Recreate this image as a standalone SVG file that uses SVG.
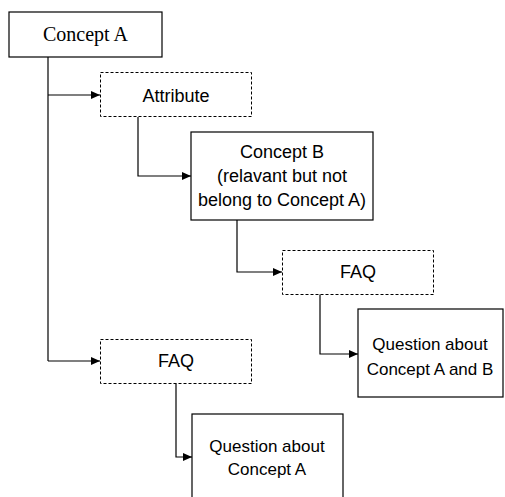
<svg xmlns="http://www.w3.org/2000/svg" width="505" height="497" viewBox="0 0 505 497">
<style>
.box{fill:#fff;stroke:#000;stroke-width:1.2}
.dash{fill:#fff;stroke:#000;stroke-width:1;stroke-dasharray:3,2}
.conn{fill:none;stroke:#000;stroke-width:1.2}
.sans{font-family:"Liberation Sans",Arial,sans-serif;font-size:18px;fill:#000;text-anchor:middle}
.q{font-size:17px}
.serif{font-family:"Liberation Serif","Times New Roman",serif;font-size:20px;fill:#000;text-anchor:middle}
</style>
<defs>
<marker id="arr" markerWidth="9" markerHeight="8" refX="9" refY="4" orient="auto" markerUnits="userSpaceOnUse">
<path d="M0,0 L9,4 L0,8 Z" fill="#000"/>
</marker>
</defs>
<rect width="505" height="497" fill="#fff"/>
<g id="connectors">
<path class="conn" d="M48,57 V361"/>
<path class="conn" d="M48,95 H100" marker-end="url(#arr)"/>
<path class="conn" d="M48,361 H100" marker-end="url(#arr)"/>
<path class="conn" d="M138,117 V176 H191" marker-end="url(#arr)"/>
<path class="conn" d="M237,220 V272 H282" marker-end="url(#arr)"/>
<path class="conn" d="M320,294 V354 H358" marker-end="url(#arr)"/>
<path class="conn" d="M176,383 V457 H192" marker-end="url(#arr)"/>
</g>
<g id="conceptA">
<rect class="box" x="9" y="12" width="153" height="45"/>
<text class="serif" x="85.5" y="41">Concept A</text>
</g>
<g id="attribute">
<rect class="dash" x="100.5" y="72.5" width="151" height="44"/>
<text class="sans" x="176" y="102">Attribute</text>
</g>
<g id="conceptB">
<rect class="box" x="191" y="132" width="182" height="88"/>
<text class="sans" x="282" y="158">Concept B</text>
<text class="sans" x="282" y="182">(relavant but not</text>
<text class="sans" x="282" y="206">belong to Concept A)</text>
</g>
<g id="faq1">
<rect class="dash" x="282.5" y="250.5" width="151" height="44"/>
<text class="sans" x="358" y="278">FAQ</text>
</g>
<g id="question1">
<rect class="box" x="358" y="309" width="145" height="88"/>
<text class="sans q" x="430" y="350">Question about</text>
<text class="sans q" x="430" y="375">Concept A and B</text>
</g>
<g id="faq2">
<rect class="dash" x="100.5" y="339.5" width="151" height="44"/>
<text class="sans" x="176" y="367">FAQ</text>
</g>
<g id="question2">
<rect class="box" x="192" y="414" width="151" height="100"/>
<text class="sans q" x="267" y="452">Question about</text>
<text class="sans q" x="267" y="475">Concept A</text>
</g>
</svg>
